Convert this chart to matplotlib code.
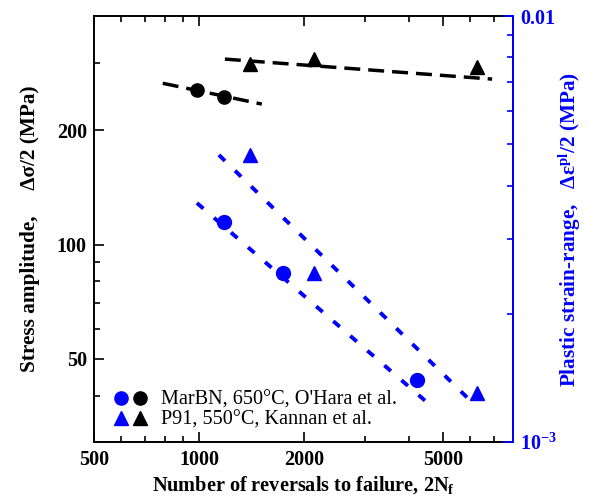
import matplotlib
matplotlib.use('Agg')
import matplotlib.pyplot as plt
from matplotlib.lines import Line2D
from matplotlib.legend_handler import HandlerTuple
from matplotlib.ticker import FixedLocator, FixedFormatter, NullFormatter

plt.rcParams['font.family'] = ['Liberation Serif', 'DejaVu Serif']
plt.rcParams['mathtext.fontset'] = 'custom'
plt.rcParams['mathtext.rm'] = 'Liberation Serif'
plt.rcParams['mathtext.it'] = 'Liberation Serif:italic'
plt.rcParams['mathtext.bf'] = 'Liberation Serif:bold'

# stress amplitude (MPa), left axis, black
marbn_nf_stress = [987, 1180]
marbn_stress = [255, 244.5]
p91_nf_stress = [1400, 2135, 6260]
p91_stress = [299, 308, 293.4]

# plastic strain range, right axis, blue
marbn_nf_strain = [1180, 1740, 4210]
marbn_strain = [3.28e-3, 2.49e-3, 1.40e-3]
p91_nf_strain = [1400, 2135, 6260]
p91_strain = [4.72e-3, 2.49e-3, 1.30e-3]

# fit lines (end points)
marbn_fit_nf = [788, 1515]
marbn_fit_stress = [266, 234.4]
p91_fit_nf = [1187, 6920]
p91_fit_stress = [308, 272.8]
marbn_fit_nf_strain = [987, 4530]
marbn_fit_strain = [3.64e-3, 1.234e-3]
p91_fit_nf_strain = [1141, 6010]
p91_fit_strain = [4.72e-3, 1.248e-3]

x_major = [500, 1000, 2000, 5000]
x_minor = [600, 700, 800, 900, 3000, 4000, 6000, 7000]
y_major = [50, 100, 200]
y_minor = [40, 60, 70, 80, 90, 300]
y2_major = [1e-3, 1e-2]
y2_labels = [r'$\mathbf{10^{-3}}$', '0.01']
y2_minor = [2e-3, 3e-3, 4e-3, 5e-3, 6e-3, 7e-3, 8e-3, 9e-3]

blue = '#0000ff'

fig = plt.figure(figsize=(5.9, 5.0), dpi=100)
ax = fig.add_axes([0.159, 0.116, 0.7105, 0.852])
ax2 = ax.twinx()

# black: stress
ax.plot(marbn_fit_nf, marbn_fit_stress, color='black', lw=2.5, dashes=(4.6, 2.3))
ax.plot(p91_fit_nf, p91_fit_stress, color='black', lw=2.5, dashes=(4.6, 2.3))
ax.plot(marbn_nf_stress, marbn_stress, 'o', color='black', ms=9.5)
ax.plot(p91_nf_stress, p91_stress, '^', color='black', ms=9.5)

# blue: strain
ax2.plot(marbn_fit_nf_strain, marbn_fit_strain, color=blue, lw=2.8, dashes=(2.2, 3.6))
ax2.plot(p91_fit_nf_strain, p91_fit_strain, color=blue, lw=2.8, dashes=(2.2, 3.6))
ax2.plot(marbn_nf_strain, marbn_strain, 'o', color=blue, ms=10)
ax2.plot(p91_nf_strain, p91_strain, '^', color=blue, ms=10)

ax.set_xscale('log')
ax.set_yscale('log')
ax2.set_yscale('log')
ax.set_xlim(500, 7943)
ax.set_ylim(30.2, 400)
ax2.set_ylim(1e-3, 1e-2)

ax.xaxis.set_major_locator(FixedLocator(x_major))
ax.xaxis.set_major_formatter(FixedFormatter([str(v) for v in x_major]))
ax.xaxis.set_minor_locator(FixedLocator(x_minor))
ax.xaxis.set_minor_formatter(NullFormatter())
ax.yaxis.set_major_locator(FixedLocator(y_major))
ax.yaxis.set_major_formatter(FixedFormatter([str(v) for v in y_major]))
ax.yaxis.set_minor_locator(FixedLocator(y_minor))
ax.yaxis.set_minor_formatter(NullFormatter())
ax2.yaxis.set_major_locator(FixedLocator(y2_major))
ax2.yaxis.set_major_formatter(FixedFormatter(y2_labels))
ax2.yaxis.set_minor_locator(FixedLocator(y2_minor))
ax2.yaxis.set_minor_formatter(NullFormatter())

for s in ax.spines.values():
    s.set_linewidth(1.4)
ax2.spines['right'].set_color(blue)
ax2.spines['right'].set_linewidth(1.4)
for s in ['left', 'top', 'bottom']:
    ax2.spines[s].set_visible(False)

ax.tick_params(which='both', direction='in', top=True, right=False, width=1.2,
               labelsize=14.5)
ax.tick_params(axis='x', pad=6)
ax.tick_params(axis='y', pad=5)
ax.tick_params(which='major', length=7)
ax.tick_params(which='minor', length=4)
ax2.tick_params(which='both', direction='in', colors=blue, width=1.2, labelsize=14.5, pad=5)
ax2.tick_params(which='major', length=7)
ax2.tick_params(which='minor', length=4)
for lab in ax.get_xticklabels() + ax.get_yticklabels() + ax2.get_yticklabels():
    lab.set_fontweight('bold')

ax.set_xlabel(r'Number of reversals to failure, 2N$_\mathbf{f}$', fontsize=14.6,
              fontweight='bold', labelpad=3)
ax.set_ylabel('Stress amplitude,     \u0394\u03c3/2 (MPa)', fontsize=15.3,
              fontweight='bold', labelpad=12)
ax2.set_ylabel(r'Plastic strain-range,   $\mathbf{\Delta\varepsilon^{pl}}$/2 (MPa)',
               fontsize=15.3, fontweight='bold', color=blue, labelpad=0)

h1 = (Line2D([], [], marker='o', ls='none', color=blue, ms=9.5),
      Line2D([], [], marker='o', ls='none', color='black', ms=9.5))
h2 = (Line2D([], [], marker='^', ls='none', color=blue, ms=9.5),
      Line2D([], [], marker='^', ls='none', color='black', ms=9.5))
ax.legend([h1, h2], ["MarBN, 650\u00b0C, O'Hara et al.", 'P91, 550\u00b0C, Kannan et al.'],
          handler_map={tuple: HandlerTuple(ndivide=None, pad=0.35)},
          loc='lower left', bbox_to_anchor=(0.01, -0.01), frameon=False,
          fontsize=14.6, handlelength=1.6, handletextpad=0.7, labelspacing=0.05,
          borderpad=0.3)

fig.savefig('out.png', dpi=100)
